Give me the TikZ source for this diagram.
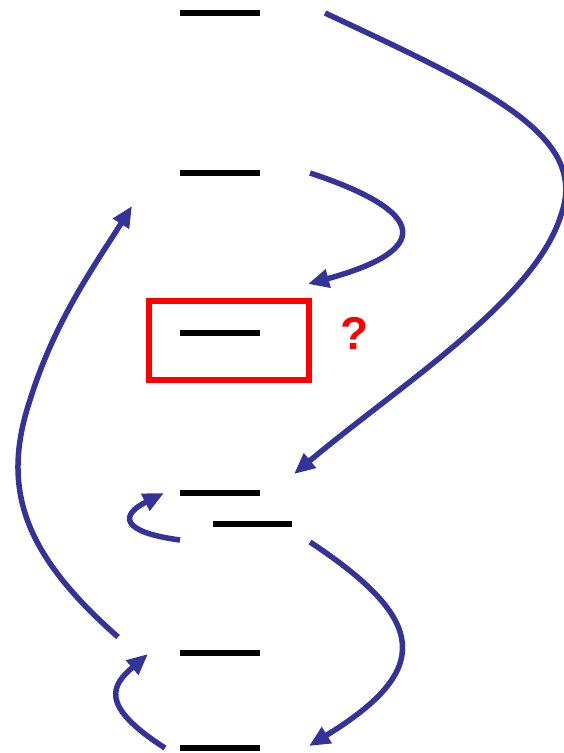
\documentclass[tikz,border=0pt]{standalone}
\usepackage{fontspec}
\setmainfont{Liberation Sans}
\usetikzlibrary{arrows.meta}
\definecolor{arrblue}{RGB}{51,51,153}
\definecolor{qred}{RGB}{255,0,0}
\tikzset{
  level/.style={draw=black,line width=5.5pt},
  flow/.style={draw=arrblue,line width=5.5pt,-{Triangle[length=21pt,width=18pt]}},
  redbox/.style={draw=qred,line width=6pt}
}
\begin{document}
\begin{tikzpicture}[x=1pt,y=-1pt]
\useasboundingbox (0,0) rectangle (563,753);
% energy levels
\draw[level] (180,13) coordinate (l1a) -- (260,13) coordinate (l1b);
\draw[level] (180,173) coordinate (l2a) -- (260,173) coordinate (l2b);
\draw[level] (180,333) coordinate (l3a) -- (260,333) coordinate (l3b);
\draw[level] (180,493) coordinate (l4a) -- (260,493) coordinate (l4b);
\draw[level] (213,524) coordinate (l4ca) -- (292,524) coordinate (l4cb);
\draw[level] (180,653) coordinate (l5a) -- (260,653) coordinate (l5b);
\draw[level] (180,748) coordinate (l6a) -- (260,748) coordinate (l6b);
% red box and question mark
\draw[redbox] (149,301) rectangle (308.5,380);
\node[text=qred,font=\bfseries\fontsize{46}{46}\selectfont] (q) at (355,333) {?};
% connector end points
\coordinate (a1s) at (325,13);
\coordinate (a1m) at (561,215);
\coordinate (a1e) at (294,474);
\coordinate (a2s) at (310,173);
\coordinate (a2e) at (308,284);
\coordinate (a3s) at (118,637);
\coordinate (a3m) at (30,400);
\coordinate (a3e) at (132,206);
\coordinate (a4s) at (180,540);
\coordinate (a4e) at (164,493);
\coordinate (a5s) at (310,542);
\coordinate (a5e) at (309,746);
\coordinate (a6s) at (165,748);
\coordinate (a6e) at (148,654);
% arrows
\draw[flow] (a1s) .. controls (485,88) and (590,135) .. (a1m) .. controls (535,300) and (400,385) .. (a1e);
\draw[flow] (a2s) .. controls (428,212) and (433,250) .. (a2e);
\draw[flow] (a3s) .. controls (25,555) and (0,490) .. (a3m) .. controls (55,320) and (95,265) .. (a3e);
\draw[flow] (a4s) .. controls (120,532) and (120,515) .. (a4e);
\draw[flow] (a5s) .. controls (428,620) and (433,670) .. (a5e);
\draw[flow] (a6s) .. controls (98,705) and (112,685) .. (a6e);
\end{tikzpicture}
\end{document}
